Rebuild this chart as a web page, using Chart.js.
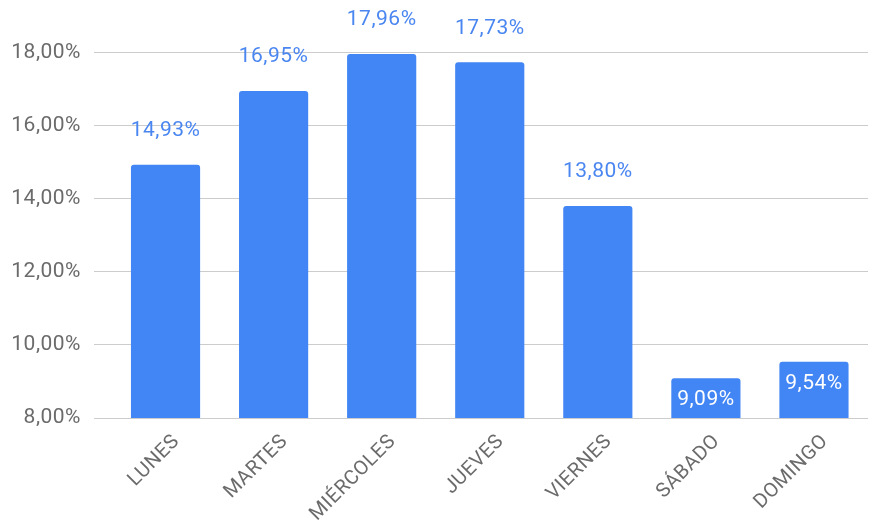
<!DOCTYPE html>
<html lang="es">
<head>
  <meta charset="UTF-8" />
  <title>Distribución por día de la semana</title>
  <script src="https://cdn.jsdelivr.net/npm/chart.js"></script>
  <style>
    body {
      margin: 0;
      background: #ffffff;
    }
    .chart-box {
      width: 876px;
      height: 525px;
    }
  </style>
</head>
<body>
  <div class="chart-box">
    <canvas id="diasChart"></canvas>
  </div>

  <script>
    const dias = ['LUNES', 'MARTES', 'MIÉRCOLES', 'JUEVES', 'VIERNES', 'SÁBADO', 'DOMINGO'];
    const porcentajes = [14.93, 16.95, 17.96, 17.73, 13.80, 9.09, 9.54];
    const ticksY = [8, 10, 12, 14, 16, 18];

    const azul = '#4285f4';
    const gris = '#6b6b6b';

    const fmt = v => v.toFixed(2).replace('.', ',') + '%';

    // un poco de espaciado entre letras para todo el texto del canvas
    const espaciado = {
      id: 'espaciado',
      beforeLayout(chart) { chart.ctx.letterSpacing = '0.5px'; },
      beforeDraw(chart) { chart.ctx.letterSpacing = '0.5px'; }
    };

    // etiquetas de valor: encima de la barra, o dentro en blanco si la barra es baja
    const etiquetas = {
      id: 'etiquetas',
      afterDatasetsDraw(chart) {
        const ctx = chart.ctx;
        const meta = chart.getDatasetMeta(0);
        const base = chart.scales.y.getPixelForValue(ticksY[0]);
        ctx.save();
        ctx.font = '21px Roboto';
        ctx.textAlign = 'center';
        ctx.textBaseline = 'middle';
        meta.data.forEach((bar, i) => {
          const alto = base - bar.y;
          if (alto < 60) {
            ctx.fillStyle = '#ffffff';
            ctx.fillText(fmt(porcentajes[i]), bar.x, bar.y + 22);
          } else {
            ctx.fillStyle = '#4a86f0';
            ctx.fillText(fmt(porcentajes[i]), bar.x, bar.y - 34);
          }
        });
        ctx.restore();
      }
    };

    new Chart(document.getElementById('diasChart'), {
      type: 'bar',
      data: {
        labels: dias,
        datasets: [{
          data: porcentajes,
          backgroundColor: azul,
          borderRadius: { topLeft: 3, topRight: 3 },
          borderSkipped: 'bottom',
          categoryPercentage: 1,
          barPercentage: 0.64
        }]
      },
      options: {
        responsive: true,
        maintainAspectRatio: false,
        animation: false,
        layout: { padding: { top: 52.5, right: 8, left: 0, bottom: 0 } },
        plugins: {
          legend: { display: false },
          tooltip: { enabled: false }
        },
        scales: {
          x: {
            grid: { display: false },
            border: { display: false },
            afterFit: s => { s.height = 107; },
            ticks: {
              autoSkip: false,
              minRotation: 45,
              maxRotation: 45,
              labelOffset: 11,
              padding: 4,
              color: gris,
              font: { family: 'Roboto', size: 20 }
            }
          },
          y: {
            min: 8,
            max: 18,
            afterFit: s => { s.width = 111.5; },
            afterBuildTicks: s => { s.ticks = ticksY.map(v => ({ value: v })); },
            grid: { color: '#cccccc', lineWidth: 1, tickLength: 17.5 },
            border: { display: false },
            ticks: {
              padding: 13,
              color: gris,
              font: { family: 'Roboto', size: 21 },
              callback: v => fmt(v)
            }
          }
        }
      },
      plugins: [espaciado, etiquetas]
    });
  </script>
</body>
</html>
